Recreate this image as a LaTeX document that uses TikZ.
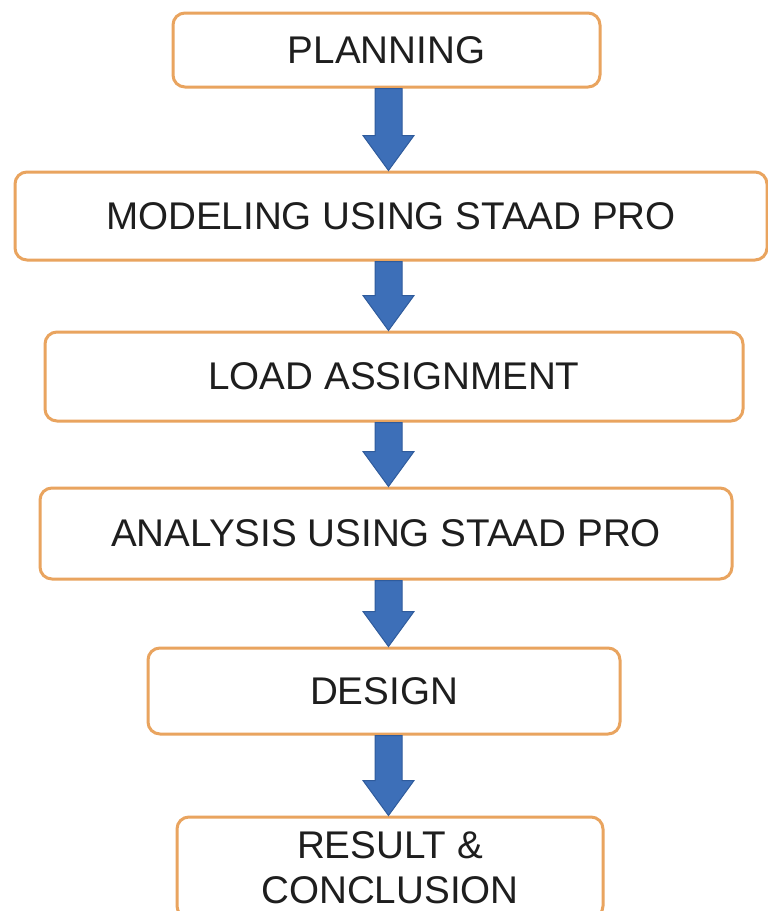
\documentclass[tikz,border=0pt]{standalone}
\usepackage{fontspec}
\setmainfont{Liberation Sans}
\usetikzlibrary{calc}
\definecolor{boxline}{HTML}{E9A45F}
\definecolor{arrowfill}{HTML}{3D6FB8}
\definecolor{arrowedge}{HTML}{2F5B9C}
\definecolor{txt}{HTML}{1E1E1E}
\newcommand\flowarrow[2]{%
  \filldraw[fill=arrowfill, draw=arrowedge, line width=1pt, line join=miter]
    ($(#1.south -| ax)+(-13.5,0)$) --
    ($(#2.north -| ax)+(-13.5,-35)$) --
    ($(#2.north -| ax)+(-25.5,-35)$) --
    (#2.north -| ax) --
    ($(#2.north -| ax)+(25.5,-35)$) --
    ($(#2.north -| ax)+(13.5,-35)$) --
    ($(#1.south -| ax)+(13.5,0)$) -- cycle;}
\begin{document}
\begin{tikzpicture}[x=1pt,y=-1pt,
  stepbox/.style={draw=boxline, line width=3pt, rounded corners=12pt, fill=white,
    inner sep=0pt, align=center, text=txt,
    font=\fontsize{38.6}{45}\selectfont}]
\clip (0,0) rectangle (768,911);
\fill[white] (0,0) rectangle (768,911);
\node[stepbox, minimum width=427pt, minimum height=74pt] (plan) at (386.5,50) {PLANNING};
\node[stepbox, minimum width=752pt, minimum height=88pt] (model) at (391,216) {MODELING USING STAAD PRO};
\node[stepbox, minimum width=698pt, minimum height=89pt] (load) at (394,376.5) {LOAD ASSIGNMENT};
\node[stepbox, minimum width=692pt, minimum height=91pt] (anal) at (386,533.5) {ANALYSIS USING STAAD PRO};
\node[stepbox, minimum width=472pt, minimum height=86pt] (design) at (384,691) {DESIGN};
\node[stepbox, minimum width=426pt, minimum height=101pt] (result) at (390,867.5) {RESULT \&\\CONCLUSION};
\coordinate (ax) at (388.5,0);
\flowarrow{plan}{model}
\flowarrow{model}{load}
\flowarrow{load}{anal}
\flowarrow{anal}{design}
\flowarrow{design}{result}
\end{tikzpicture}
\end{document}
